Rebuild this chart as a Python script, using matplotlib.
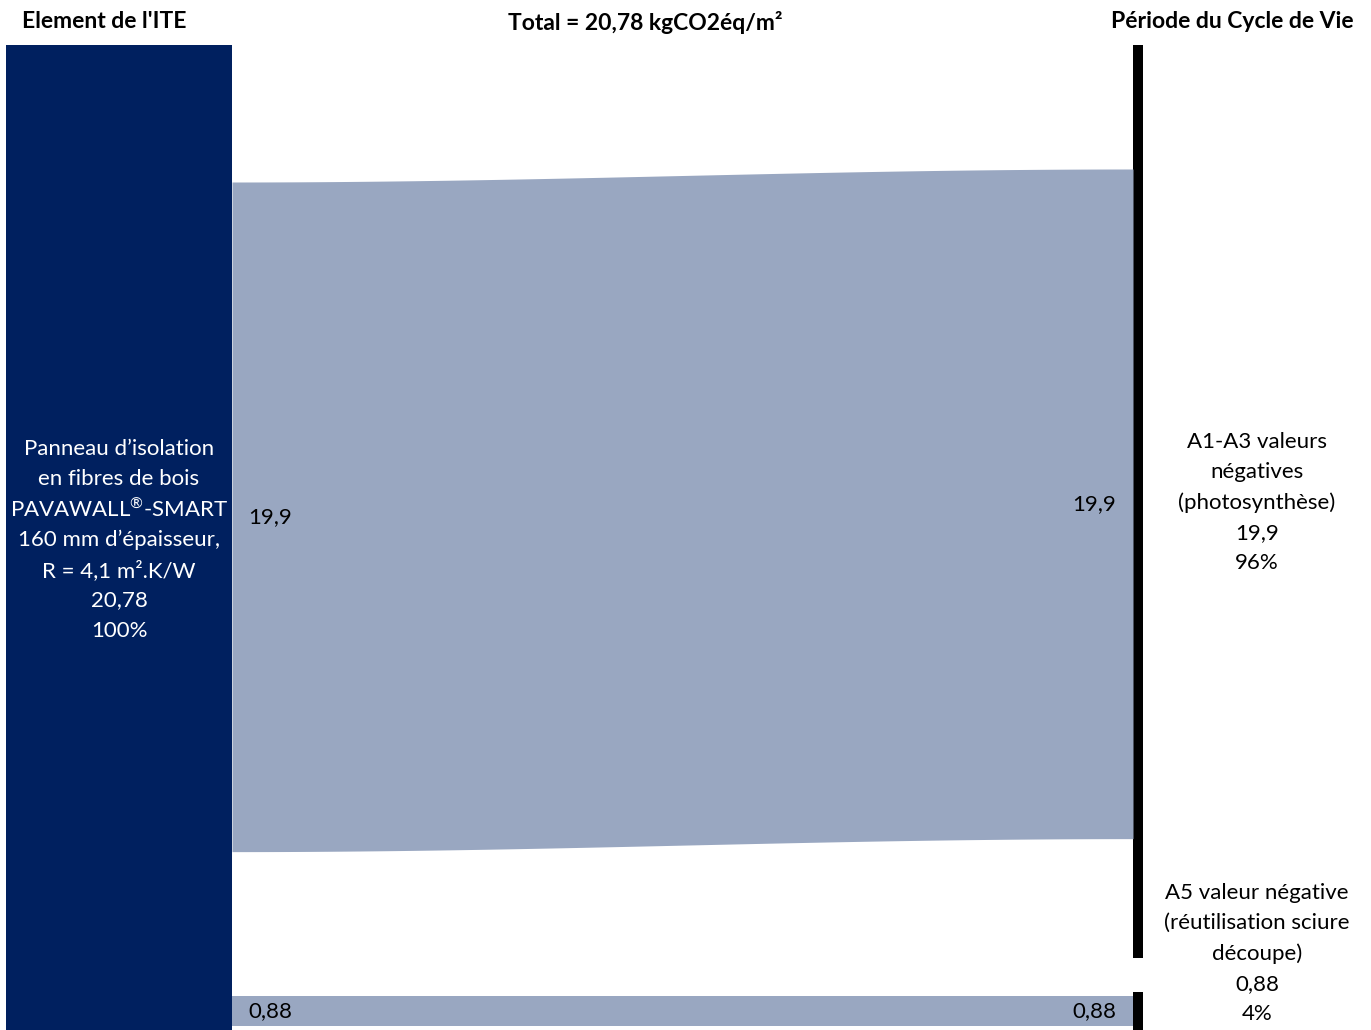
import numpy as np
import matplotlib.pyplot as plt

# ITE sankey: total, flows, labels
TOTAL = 20.78
SOURCE_LABEL = ["Panneau d\u2019isolation", "en fibres de bois", "PAVAWALL$^{\\mathrm{\u00ae}}$-SMART",
                "160 mm d\u2019\u00e9paisseur,", "R = 4,1 m\u00b2.K/W", "20,78", "100%"]
FLOW_VALUES = [19.9, 0.88]
FLOW_TEXT = ["19,9", "0,88"]
TARGET_LABELS = [["A1-A3 valeurs", "n\u00e9gatives", "(photosynth\u00e8se)", "19,9", "96%"],
                 ["A5 valeur n\u00e9gative", "(r\u00e9utilisation sciure", "d\u00e9coupe)", "0,88", "4%"]]
HEADERS = ["Element de l'ITE", "Total = 20,78 kgCO2\u00e9q/m\u00b2", "P\u00e9riode du Cycle de Vie"]

NAVY = "#00205F"
FLOW = "#99A7C1"

plt.rcParams['font.family'] = ['Lato', 'DejaVu Sans']
plt.rcParams['mathtext.fontset'] = 'custom'
plt.rcParams['mathtext.rm'] = 'Lato'

W, H = 1371, 1030
fig = plt.figure(figsize=(W / 100, H / 100), dpi=100)
ax = fig.add_axes([0, 0, 1, 1])
ax.set_xlim(0, W)
ax.set_ylim(H, 0)
ax.axis('off')

px = 33.65  # pixels per kgCO2eq/m2
x_left, x_right = 232, 1133


def block(xc, y0, lines, color='black', step=30.3):
    for i, s in enumerate(lines):
        ax.text(xc, y0 + i * step, s, color=color, fontsize=16, ha='center', va='center')


# source node
ax.add_patch(plt.Rectangle((6, 45), x_left - 6, 985, color=NAVY, lw=0))
# target nodes
ax.add_patch(plt.Rectangle((x_right, 45), 10, 913, color='black', lw=0))
ax.add_patch(plt.Rectangle((x_right, 992), 10, 40, color='black', lw=0))

# flows
left_tops = [182, 996]
right_tops = [169, 996]
x = np.linspace(x_left, x_right, 200)
t = (1 - np.cos(np.pi * (x - x_left) / (x_right - x_left))) / 2
for v, lt, rt, txt in zip(FLOW_VALUES, left_tops, right_tops, FLOW_TEXT):
    top = lt + (rt - lt) * t
    bot = top + v * px
    ax.fill_between(x, top, bot, color=FLOW, lw=0)
    ax.text(248, lt + v * px / 2, txt, fontsize=16, va='center', ha='left')
    ax.text(1116, rt + v * px / 2, txt, fontsize=16, va='center', ha='right')

# labels
block(119, 449, SOURCE_LABEL, color='white')
block(1257, 442, TARGET_LABELS[0])
block(1257, 893, TARGET_LABELS[1])

ax.text(104, 22, HEADERS[0], fontsize=16.5, fontweight='bold', ha='center', va='center')
ax.text(645, 22, HEADERS[1], fontsize=16.5, fontweight='bold', ha='center', va='center')
ax.text(1232, 22, HEADERS[2], fontsize=16.5, fontweight='bold', ha='center', va='center')

fig.savefig("out.png", dpi=100)
